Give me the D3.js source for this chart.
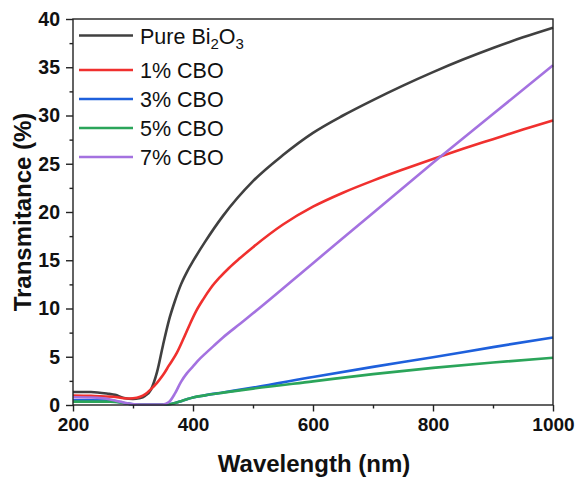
<!DOCTYPE html>
<html>
<head>
<meta charset="utf-8">
<script src="https://cdn.jsdelivr.net/npm/d3@7"></script>
<style>
  body { margin: 0; background: #fff; }
  svg { display: block; font-family: "Liberation Sans", Arial, sans-serif; }
</style>
</head>
<body>
<svg id="chart" width="577" height="477"></svg>
<script>
// wavelength (nm) / transmittance (%)
var pureWl = [200, 230, 260, 270, 285, 300, 310, 320, 330, 340, 350, 360, 370, 380, 390, 400, 420, 450, 500, 550, 600, 650, 700, 750, 800, 850, 900, 950, 1000];
var pureT  = [1.35, 1.35, 1.15, 1.05, 0.72, 0.62, 0.7, 0.95, 1.6, 3.4, 6.2, 8.8, 10.8, 12.5, 13.8, 14.9, 16.9, 19.6, 23.2, 25.9, 28.2, 30.0, 31.6, 33.1, 34.5, 35.8, 37.0, 38.1, 39.1];

var cbo1Wl = [200, 230, 267, 290, 300, 312, 320, 330, 340, 350, 360, 373, 385, 395, 405, 417, 430, 445, 460, 478, 500, 550, 600, 650, 700, 750, 800, 850, 900, 950, 1000];
var cbo1T  = [0.98, 0.95, 0.85, 0.68, 0.7, 0.85, 1.1, 1.65, 2.3, 3.1, 4.1, 5.4, 7.0, 8.4, 9.7, 10.95, 12.15, 13.25, 14.2, 15.2, 16.35, 18.7, 20.55, 22.0, 23.25, 24.4, 25.5, 26.55, 27.55, 28.55, 29.5];

var cbo3Wl = [200, 230, 262, 290, 305, 350, 360, 370, 380, 390, 400, 420, 450, 500, 600, 700, 800, 900, 1000];
var cbo3T  = [0.5, 0.5, 0.45, 0.15, 0.05, 0.04, 0.08, 0.2, 0.4, 0.6, 0.78, 1.0, 1.3, 1.8, 2.9, 3.95, 4.95, 6.0, 7.0];

var cbo5Wl = [200, 230, 262, 290, 305, 350, 360, 370, 380, 390, 400, 420, 450, 500, 600, 700, 800, 900, 1000];
var cbo5T  = [0.35, 0.35, 0.35, 0.15, 0.05, 0.04, 0.08, 0.2, 0.4, 0.6, 0.78, 1.0, 1.28, 1.7, 2.45, 3.2, 3.85, 4.4, 4.9];

var cbo7Wl = [200, 230, 250, 278, 295, 310, 350, 360, 370, 380, 390, 400, 410, 420, 434, 450, 478, 500, 600, 700, 800, 900, 1000];
var cbo7T  = [0.8, 0.78, 0.7, 0.35, 0.12, 0.05, 0.05, 0.3, 1.2, 2.4, 3.3, 4.0, 4.7, 5.3, 6.1, 7.0, 8.4, 9.5, 14.7, 19.9, 25.1, 30.15, 35.2];

var seriesNames = ['Pure Bi2O3', '1% CBO', '3% CBO', '5% CBO', '7% CBO'];
var seriesColors = ['#404040', '#f0302e', '#1e60dc', '#2ba55a', '#a472e0'];
var xTicks = [200, 400, 600, 800, 1000];
var yTicks = [0, 5, 10, 15, 20, 25, 30, 35, 40];

var series = [
    d3.zip(pureWl, pureT),
    d3.zip(cbo1Wl, cbo1T),
    d3.zip(cbo3Wl, cbo3T),
    d3.zip(cbo5Wl, cbo5T),
    d3.zip(cbo7Wl, cbo7T)
];

var margin = {top: 19, right: 24, bottom: 72, left: 73};
var svg = d3.select('#chart');
var width = 577 - margin.left - margin.right;
var height = 477 - margin.top - margin.bottom;

var g = svg.append('g')
    .attr('transform', 'translate(' + [margin.left, margin.top] + ')');

var x = d3.scaleLinear().domain([200, 1000]).range([0, width]);
var y = d3.scaleLinear().domain([0, 40]).range([height, 0]);

var line = d3.line()
    .x(function (d) { return x(d[0]); })
    .y(function (d) { return y(d[1]); })
    .curve(d3.curveMonotoneX);

g.selectAll('.series')
    .data(series)
    .enter()
    .append('path')
    .attr('class', 'series')
    .attr('fill', 'none')
    .attr('stroke', function (d, i) { return seriesColors[i]; })
    .attr('stroke-width', 2.6)
    .attr('stroke-linejoin', 'round')
    .attr('d', line);

// frame
g.append('rect')
    .attr('width', width)
    .attr('height', height)
    .attr('fill', 'none')
    .attr('stroke', '#222')
    .attr('stroke-width', 1.4);

// x axis: minor then major ticks
var xAxis = g.append('g').attr('transform', 'translate(0,' + height + ')');
xAxis.call(d3.axisBottom(x).tickValues(d3.range(300, 1000, 200)).tickSize(3.5).tickFormat(''));
xAxis.append('g').call(d3.axisBottom(x).tickValues(xTicks).tickSize(6.5).tickPadding(6).tickFormat(d3.format('d')));
xAxis.selectAll('.domain').remove();
xAxis.selectAll('line').attr('stroke', '#222').attr('stroke-width', 1.4);
xAxis.selectAll('text')
    .attr('font-family', '"Liberation Sans", Arial, sans-serif')
    .attr('font-size', 19)
    .attr('font-weight', 'bold')
    .attr('fill', '#111');

var yAxis = g.append('g');
yAxis.call(d3.axisLeft(y).tickValues(d3.range(2.5, 40, 5)).tickSize(3.5).tickFormat(''));
yAxis.append('g').call(d3.axisLeft(y).tickValues(yTicks).tickSize(7).tickPadding(6).tickFormat(d3.format('d')));
yAxis.selectAll('.domain').remove();
yAxis.selectAll('line').attr('stroke', '#222').attr('stroke-width', 1.4);
yAxis.selectAll('text')
    .attr('font-family', '"Liberation Sans", Arial, sans-serif')
    .attr('font-size', 19.5)
    .attr('font-weight', 'bold')
    .attr('fill', '#111');

// axis titles
svg.append('text')
    .attr('x', margin.left + width / 2 + 1)
    .attr('y', 472)
    .attr('text-anchor', 'middle')
    .attr('font-size', 24)
    .attr('font-weight', 'bold')
    .attr('fill', '#111')
    .text('Wavelength (nm)');

svg.append('text')
    .attr('transform', 'translate(31,' + (margin.top + height / 2) + ')rotate(-90)')
    .attr('text-anchor', 'middle')
    .attr('font-size', 24)
    .attr('font-weight', 'bold')
    .attr('fill', '#111')
    .text('Transmitance (%)');

// legend
var legendY = [35.5, 70, 99, 128, 157];
var legend = svg.selectAll('.legend')
    .data(seriesNames)
    .enter()
    .append('g')
    .attr('class', 'legend')
    .attr('transform', function (d, i) { return 'translate(79,' + legendY[i] + ')'; });

legend.append('line')
    .attr('x1', 0).attr('x2', 54)
    .attr('stroke', function (d, i) { return seriesColors[i]; })
    .attr('stroke-width', 2.6);

legend.each(function (d, i) {
    var t = d3.select(this).append('text')
        .attr('x', 61)
        .attr('y', 8)
        .attr('font-size', 21.5)
        .attr('fill', '#111');
    if (i === 0) {
        t.append('tspan').text('Pure Bi');
        t.append('tspan').attr('font-size', 15).attr('dy', 5).text('2');
        t.append('tspan').attr('dy', -5).text('O');
        t.append('tspan').attr('font-size', 15).attr('dy', 5).text('3');
    } else {
        t.text(d);
    }
});
</script>
</body>
</html>
